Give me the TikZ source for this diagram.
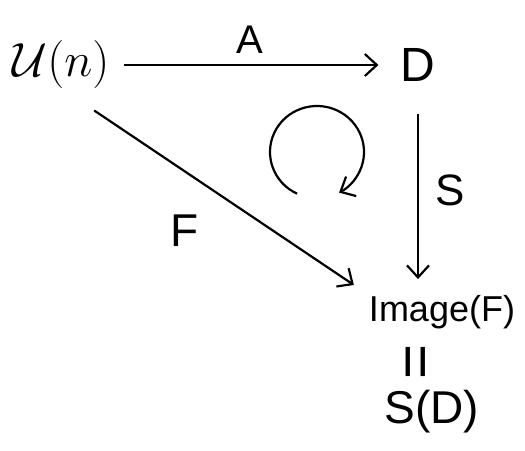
\RequirePackage{fix-cm}
\documentclass[tikz,border=0pt]{standalone}
\usepackage{fontspec}
\setmainfont{Liberation Sans}
\usetikzlibrary{arrows.meta}
\begin{document}
\begin{tikzpicture}[x=1pt,y=-1pt,
  lbl/.style={inner sep=0pt},
  arr/.style={line width=2.2pt,-{Straight Barb[length=12pt,width=22pt,line width=2.2pt]}},
  big/.style={font=\fontsize{48}{56}\selectfont},
  mid/.style={font=\fontsize{40}{48}\selectfont},
  small/.style={font=\fontsize{36}{42}\selectfont}]
\useasboundingbox (0,0) rectangle (525,450);
\node[lbl,font=\fontsize{48}{56}\selectfont] (U) at (61,64) {$\mathcal{U}(n)$};
\node[lbl,big] (D) at (418,65) {D};
\node[lbl,small] (img) at (442,312) {Image(F)};
\node[lbl,font=\fontsize{60}{68}\selectfont,rotate=90] (eq) at (421,362) {=};
\node[lbl,font=\fontsize{46}{54}\selectfont] (SD) at (432,412) {S(D)};
\node[lbl,mid] (lA) at (250,40) {A};
\node[lbl,font=\fontsize{44}{52}\selectfont] (lS) at (450,190) {S};
\node[lbl,font=\fontsize{46}{54}\selectfont] (lF) at (185,231) {F};
\draw[arr,shorten <=40pt,shorten >=18pt] (U.south) -- (img.north west);
\draw[arr,shorten <=14pt,shorten >=22pt] (U.east |- D) -- (D.west);
\draw[arr,shorten <=32pt,shorten >=16pt] (D.south) -- (D.south |- img.north);
\draw[line width=2.2pt,-{Straight Barb[length=12pt,width=22pt,line width=2.2pt]}]
  (317,152) ++(115:47 and 46) arc[start angle=115,end angle=422,x radius=47,y radius=46];
\end{tikzpicture}
\end{document}
